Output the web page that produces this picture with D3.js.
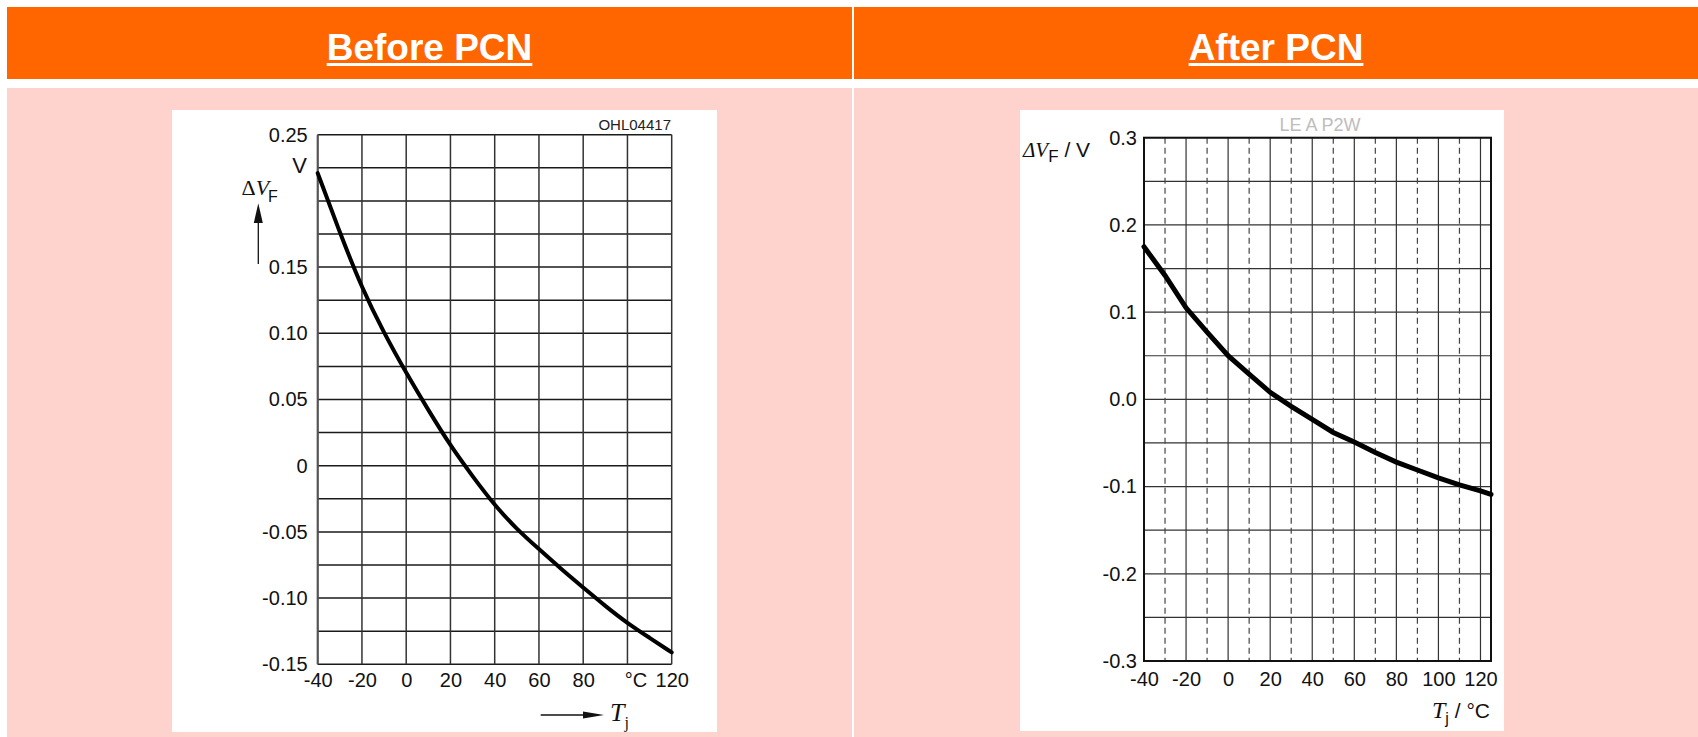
<!DOCTYPE html>
<html>
<head>
<meta charset="utf-8">
<script src="https://cdn.jsdelivr.net/npm/d3@7"></script>
<style>
  html, body { margin: 0; padding: 0; background: #fff; }
  svg { display: block; }
</style>
</head>
<body>
<div id="chart"></div>
<script>
// ---- data ----
var beforeTemps = [-40, -30, -20, -10, 0, 10, 20, 30, 40, 50, 60, 70, 80, 90, 100, 110, 120];
var beforeDeltaVF = [0.221, 0.176, 0.134, 0.100, 0.070, 0.042, 0.015, -0.008, -0.030, -0.048, -0.063, -0.078, -0.092, -0.106, -0.119, -0.130, -0.141];

var afterTemps = [-40, -30, -20, -10, 0, 10, 20, 30, 40, 50, 60, 70, 80, 90, 100, 110, 120, 125];
var afterDeltaVF = [0.175, 0.142, 0.105, 0.077, 0.050, 0.029, 0.008, -0.008, -0.023, -0.038, -0.049, -0.061, -0.072, -0.081, -0.090, -0.098, -0.105, -0.109];

var beforeXTicks = [-40, -20, 0, 20, 40, 60, 80, 100, 120];
var beforeXLabels = ["-40", "-20", "0", "20", "40", "60", "80", "\u00B0C", "120"];
var beforeYTicks = [0.25, 0.15, 0.10, 0.05, 0, -0.05, -0.10, -0.15];
var beforeYLabels = ["0.25", "0.15", "0.10", "0.05", "0", "-0.05", "-0.10", "-0.15"];

var afterXTicks = [-40, -20, 0, 20, 40, 60, 80, 100, 120];
var afterXLabels = ["-40", "-20", "0", "20", "40", "60", "80", "100", "120"];
var afterXDashed = [-30, -10, 10, 30, 50, 70, 90, 110];
var afterYTicks = [0.3, 0.2, 0.1, 0, -0.1, -0.2, -0.3];
var afterYLabels = ["0.3", "0.2", "0.1", "0.0", "-0.1", "-0.2", "-0.3"];

var headers = ["Before PCN", "After PCN"];

// ---- page ----
var W = 1698, H = 737;
var SANS = "'Liberation Sans', Arial, sans-serif";
var SERIF = "'Liberation Serif', 'Times New Roman', serif";

var svg = d3.select("#chart").append("svg").attr("width", W).attr("height", H);

var cols = [{x0: 7, x1: 852}, {x0: 854, x1: W}];
cols.forEach(function(c, i) {
  svg.append("rect").attr("x", c.x0).attr("y", 7).attr("width", c.x1 - c.x0).attr("height", 72).attr("fill", "#FF6600");
  svg.append("rect").attr("x", c.x0).attr("y", 88).attr("width", c.x1 - c.x0).attr("height", H - 88).attr("fill", "#FFD3CD");
  var cx = (c.x0 + c.x1) / 2;
  var t = svg.append("text").attr("x", cx).attr("y", 60).attr("text-anchor", "middle")
    .style("font", "bold 37px " + SANS).attr("fill", "#fff").text(headers[i]);
  var w = t.node().getComputedTextLength();
  svg.append("rect").attr("x", cx - w / 2).attr("y", 63).attr("width", w).attr("height", 3).attr("fill", "#fff");
});

// white chart panels
svg.append("rect").attr("x", 172).attr("y", 110).attr("width", 545).attr("height", 622).attr("fill", "#fff");
svg.append("rect").attr("x", 1020).attr("y", 110).attr("width", 484).attr("height", 621).attr("fill", "#fff");

// ---- before chart ----
var xB = d3.scaleLinear().domain([-40, 120]).range([317.7, 671.7]);
var yB = d3.scaleLinear().domain([-0.15, 0.25]).range([664.3, 134.7]);
var gB = svg.append("g");

gB.selectAll("line.hg").data(d3.range(0, 17)).enter().append("line")
  .attr("x1", xB(-40)).attr("x2", xB(120))
  .attr("y1", function(i) { return yB(-0.15 + i * 0.025); })
  .attr("y2", function(i) { return yB(-0.15 + i * 0.025); })
  .attr("stroke", "#1a1a1a").attr("stroke-width", 1.5);
gB.selectAll("line.vg").data(beforeXTicks).enter().append("line")
  .attr("x1", function(d) { return xB(d); }).attr("x2", function(d) { return xB(d); })
  .attr("y1", yB(0.25)).attr("y2", yB(-0.15))
  .attr("stroke", "#333").attr("stroke-width", 1.5);
gB.append("line").attr("x1", xB(-40)).attr("x2", xB(-40)).attr("y1", yB(0.25)).attr("y2", yB(-0.15))
  .attr("stroke", "#555").attr("stroke-width", 2);

var axB = gB.append("g").attr("transform", "translate(0," + yB(-0.15) + ")")
  .call(d3.axisBottom(xB).tickValues(beforeXTicks).tickSize(0).tickPadding(9)
    .tickFormat(function(d, i) { return beforeXLabels[i]; }));
axB.select(".domain").remove();
axB.selectAll("text").style("font", "20px " + SANS).attr("fill", "#111")
  .attr("dx", function(d) { return d === 100 ? 8 : 0; });

var ayB = gB.append("g").attr("transform", "translate(" + xB(-40) + ",0)")
  .call(d3.axisLeft(yB).tickValues(beforeYTicks).tickSize(0).tickPadding(10)
    .tickFormat(function(d, i) { return beforeYLabels[i]; }));
ayB.select(".domain").remove();
ayB.selectAll("text").style("font", "20px " + SANS).attr("fill", "#111");

gB.append("text").attr("x", 307).attr("y", yB(0.227)).attr("dy", "0.36em").attr("text-anchor", "end")
  .style("font", "22px " + SANS).attr("fill", "#111").text("V");
gB.append("text").attr("x", 671).attr("y", 130).attr("text-anchor", "end")
  .style("font", "15px " + SANS).attr("fill", "#222").text("OHL04417");

var lblB = gB.append("text").attr("x", 241.5).attr("y", 195).attr("fill", "#111");
lblB.append("tspan").style("font", "22px " + SERIF).text("\u0394");
lblB.append("tspan").style("font", "italic 22px " + SERIF).text("V");
lblB.append("tspan").style("font", "16px " + SANS).attr("dx", -1).attr("dy", 6.5).text("F");
gB.append("line").attr("x1", 258.3).attr("x2", 258.3).attr("y1", 264).attr("y2", 218).attr("stroke", "#111").attr("stroke-width", 1.3);
gB.append("path").attr("d", "M258.3,203.3 L262.8,223 L253.8,223 Z").attr("fill", "#111");

gB.append("line").attr("x1", 540.7).attr("x2", 590).attr("y1", 715).attr("y2", 715).attr("stroke", "#111").attr("stroke-width", 1.3);
gB.append("path").attr("d", "M604,715 L583,711.5 L583,718.5 Z").attr("fill", "#111");
var tjB = gB.append("text").attr("x", 610).attr("y", 721).attr("fill", "#111");
tjB.append("tspan").style("font", "italic 26px " + SERIF).text("T");
tjB.append("tspan").style("font", "16px " + SERIF).attr("dy", 7).text("j");

gB.append("path").datum(d3.zip(beforeTemps, beforeDeltaVF))
  .attr("fill", "none").attr("stroke", "#000").attr("stroke-width", 4).attr("stroke-linecap", "round")
  .attr("d", d3.line().x(function(d) { return xB(d[0]); }).y(function(d) { return yB(d[1]); }).curve(d3.curveBasis));

// ---- after chart ----
var xA = d3.scaleLinear().domain([-40, 125]).range([1144, 1491]);
var yA = d3.scaleLinear().domain([-0.3, 0.3]).range([661, 137.7]);
var gA = svg.append("g");

gA.selectAll("line.hg").data(d3.range(0, 13)).enter().append("line")
  .attr("x1", xA(-40)).attr("x2", xA(125))
  .attr("y1", function(i) { return yA(-0.3 + i * 0.05); })
  .attr("y2", function(i) { return yA(-0.3 + i * 0.05); })
  .attr("stroke", "#333").attr("stroke-width", 1.2);
gA.selectAll("line.vg").data(afterXTicks).enter().append("line")
  .attr("x1", function(d) { return xA(d); }).attr("x2", function(d) { return xA(d); })
  .attr("y1", yA(0.3)).attr("y2", yA(-0.3))
  .attr("stroke", "#333").attr("stroke-width", 1.2);
gA.selectAll("line.vd").data(afterXDashed).enter().append("line")
  .attr("x1", function(d) { return xA(d); }).attr("x2", function(d) { return xA(d); })
  .attr("y1", yA(0.3)).attr("y2", yA(-0.3))
  .attr("stroke", "#444").attr("stroke-width", 1.2).attr("stroke-dasharray", "6,4");
gA.append("rect").attr("x", xA(-40)).attr("y", yA(0.3))
  .attr("width", xA(125) - xA(-40)).attr("height", yA(-0.3) - yA(0.3))
  .attr("fill", "none").attr("stroke", "#111").attr("stroke-width", 2);

var axA = gA.append("g").attr("transform", "translate(0," + yA(-0.3) + ")")
  .call(d3.axisBottom(xA).tickValues(afterXTicks).tickSize(0).tickPadding(11)
    .tickFormat(function(d, i) { return afterXLabels[i]; }));
axA.select(".domain").remove();
axA.selectAll("text").style("font", "20px " + SANS).attr("fill", "#111");

var ayA = gA.append("g").attr("transform", "translate(" + xA(-40) + ",0)")
  .call(d3.axisLeft(yA).tickValues(afterYTicks).tickSize(0).tickPadding(7)
    .tickFormat(function(d, i) { return afterYLabels[i]; }));
ayA.select(".domain").remove();
ayA.selectAll("text").style("font", "20px " + SANS).attr("fill", "#111");

gA.append("text").attr("x", 1320).attr("y", 131).attr("text-anchor", "middle")
  .style("font", "18px " + SANS).attr("fill", "#bdbdbd").text("LE A P2W");

var lblA = gA.append("text").attr("x", 1023).attr("y", 157).attr("fill", "#111");
lblA.append("tspan").style("font", "italic 21px " + SERIF).text("\u0394V");
lblA.append("tspan").style("font", "17px " + SANS).attr("dy", 5).text("F");
lblA.append("tspan").style("font", "21px " + SANS).attr("dy", -5).text(" / V");

var tjA = gA.append("text").attr("x", 1490).attr("y", 718).attr("text-anchor", "end").attr("fill", "#111");
tjA.append("tspan").style("font", "italic 24px " + SERIF).text("T");
tjA.append("tspan").style("font", "16px " + SANS).attr("dy", 6).text("j");
tjA.append("tspan").style("font", "21px " + SANS).attr("dy", -6).text(" / \u00B0C");

gA.append("path").datum(d3.zip(afterTemps, afterDeltaVF))
  .attr("fill", "none").attr("stroke", "#000").attr("stroke-width", 5).attr("stroke-linecap", "round")
  .attr("d", d3.line().x(function(d) { return xA(d[0]); }).y(function(d) { return yA(d[1]); }));
</script>
</body>
</html>
